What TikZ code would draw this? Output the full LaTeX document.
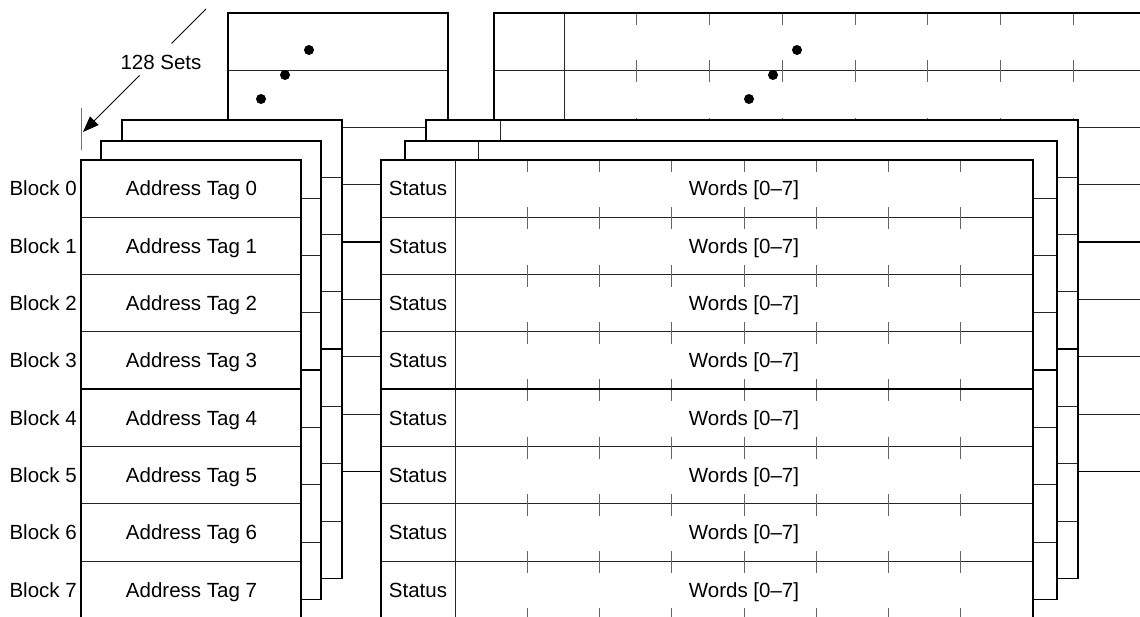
\documentclass[tikz,border=0pt]{standalone}
\usepackage{fontspec}
\setmainfont{Liberation Sans}
\usetikzlibrary{arrows.meta}
\tikzset{
  box/.style={draw=black, line width=1.8pt},
  rowline/.style={draw=black!85, line width=0.9pt},
  tickline/.style={draw=black!60, line width=1pt},
  lbl/.style={inner sep=0pt, text height=14.7pt, text depth=0pt, font=\fontsize{20.5}{24}\selectfont},
}

\begin{document}
\begin{tikzpicture}[x=1pt, y=-1pt, >=Triangle]
\useasboundingbox (0,0) rectangle (1140,617);
\clip (0,0) rectangle (1140,617);
\def\rh{57.3}
% ways, back to front: tag x / data x / top y / status width / ticks
\foreach \lx/\rx/\ty/\sw/\tk in {228/494/13/70/1, 122/426/120/74/0, 101/405/141/73/0, 81/381/160/74/1} {
  % tag array
  \fill[white] (\lx,\ty) rectangle ++(220,8*\rh);
  \foreach \r in {1,2,3,5,6,7}
    \draw[rowline] (\lx,\ty+\r*\rh) -- ++(220,0);
  \draw[box] (\lx,\ty+4*\rh) -- ++(220,0);
  \draw[box] (\lx,\ty) rectangle ++(220,8*\rh);
  % data array
  \fill[white] (\rx,\ty) rectangle ++(652,8*\rh);
  \foreach \r in {1,2,3,5,6,7}
    \draw[rowline] (\rx,\ty+\r*\rh) -- ++(652,0);
  \draw[rowline] (\rx+\sw,\ty) -- ++(0,8*\rh);
  \ifnum\tk=1
    \begin{scope}
      \clip (\rx,\ty) rectangle ++(652,8*\rh);
      \foreach \r in {0,...,8}
        \foreach \c in {1,...,7}
          \draw[tickline] ({\rx+\sw+\c*(652-\sw)/8}, {\ty+\r*\rh-10}) -- ++(0,22);
    \end{scope}
  \fi
  \draw[box] (\rx,\ty+4*\rh) -- ++(652,0);
  \draw[box] (\rx,\ty) rectangle ++(652,8*\rh);
}

% dots in the back way
\foreach \dx/\dy in {309/50, 285/75, 261/99, 797/50, 773/75, 749/99}
  \fill (\dx,\dy) circle (5pt);

% front way labels
\foreach \i in {0,...,7} {
  \node[lbl, anchor=east] (block\i) at (77, 188.65+\i*\rh) {Block \i};
  \node[lbl] (tag\i) at (191.5, 188.65+\i*\rh) {Address Tag \i};
  \node[lbl] (status\i) at (418, 188.65+\i*\rh) {Status};
  \node[lbl] (words\i) at (744, 188.65+\i*\rh) {Words [0–7]};
}

% set count
\coordinate (setsend) at (206,9);
\coordinate (setsbreak) at (171.5,43.5);
\coordinate (setsresume) at (139.5,75.5);
\coordinate (setstip) at (83,132);
\node[lbl] (sets) at (161,62) {128 Sets};
\draw[line width=0.9pt] (setsend) -- (setsbreak);
\draw[line width=0.9pt, -{Triangle[length=16pt,width=12pt]}] (setsresume) -- (setstip);
\draw[black!55, line width=1pt] (81.5,108) -- (81.5,150);
\end{tikzpicture}
\end{document}
